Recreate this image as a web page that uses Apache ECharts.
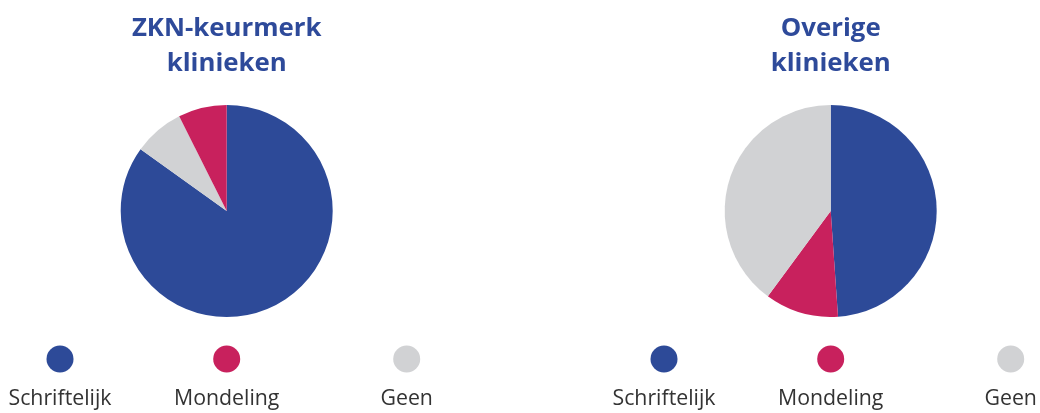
<!DOCTYPE html>
<html>
<head>
<meta charset="utf-8">
<script src="https://cdn.jsdelivr.net/npm/echarts@6/dist/echarts.min.js"></script>
<style>html,body{margin:0;padding:0;background:#fff}#c{width:1040px;height:413px}</style>
</head>
<body>
<div id="c"></div>
<script>
// ---- data ----
const categories = ['Schriftelijk', 'Mondeling', 'Geen'];
const chartTitles = ['ZKN-keurmerk\nklinieken', 'Overige\nklinieken'];
// values in % per category (order of categories)
const zknValues = [84.9, 7.4, 7.7];
const overigeValues = [48.9, 11.2, 39.9];
// drawing order (clockwise from 12 o'clock) for each pie
const zknOrder = ['Schriftelijk', 'Geen', 'Mondeling'];
const overigeOrder = ['Schriftelijk', 'Mondeling', 'Geen'];

// ---- style / layout ----
const colorMap = { 'Schriftelijk': '#2d4a98', 'Mondeling': '#c8215d', 'Geen': '#d1d2d4' };
const pieCentersX = [226.7, 830.7];
const pieCenterY = 211;
const pieRadius = 106;
const legendOffsets = [-166.7, 0, 180];
const fontFamily = '"Open Sans", "Noto Sans", sans-serif';

function buildData(values, order) {
  return order.map(name => {
    const v = values[categories.indexOf(name)];
    return { name: name, value: v, itemStyle: { color: colorMap[name] } };
  });
}

const seriesValues = [zknValues, overigeValues];
const seriesOrders = [zknOrder, overigeOrder];

const series = seriesValues.map((vals, i) => ({
  type: 'pie',
  center: [pieCentersX[i], pieCenterY],
  radius: pieRadius,
  startAngle: 90,
  clockwise: true,
  label: { show: false },
  labelLine: { show: false },
  emphasis: { disabled: true },
  silent: true,
  animation: false,
  data: buildData(vals, seriesOrders[i])
}));

const graphic = [];
pieCentersX.forEach((cx, i) => {
  graphic.push({
    type: 'text',
    x: cx, y: 11,
    style: {
      text: chartTitles[i],
      textAlign: 'center',
      textVerticalAlign: 'top',
      fontFamily: fontFamily,
      fontWeight: 'bold',
      fontSize: 25.8,
      lineHeight: 35,
      fill: '#2e4a9a'
    }
  });
  categories.forEach((name, k) => {
    graphic.push({
      type: 'circle',
      shape: { cx: cx + legendOffsets[k], cy: 359, r: 13.5 },
      style: { fill: colorMap[name] }
    });
    graphic.push({
      type: 'text',
      x: cx + legendOffsets[k], y: 399,
      style: {
        text: name,
        textAlign: 'center',
        textVerticalAlign: 'middle',
        fontFamily: fontFamily,
        fontSize: 21.3,
        fill: '#333333'
      }
    });
  });
});

const chart = echarts.init(document.getElementById('c'), null, { renderer: 'canvas' });
chart.setOption({
  backgroundColor: '#ffffff',
  animation: false,
  series: series,
  graphic: graphic
});
</script>
</body>
</html>
